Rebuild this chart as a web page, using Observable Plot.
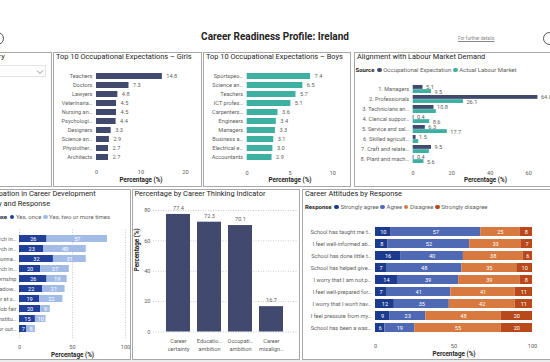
<!DOCTYPE html>
<html><head><meta charset="utf-8">
<script src="https://cdn.jsdelivr.net/npm/d3@7"></script>
<script src="https://cdn.jsdelivr.net/npm/@observablehq/plot@0.6"></script>
<style>
html,body{margin:0;padding:0;background:#fff;}
#root{position:relative;width:550px;height:362px;overflow:hidden;font-family:Roboto,sans-serif;color:#252423;background:#fff;}
.panel{position:absolute;box-sizing:border-box;border:1px solid #a8a8a8;background:#fff;}
.ptitle{position:absolute;font-size:7.4px;color:#252423;white-space:nowrap;line-height:9.5px;}
.legend{position:absolute;font-size:6px;color:#605e5c;white-space:nowrap;line-height:8px;}
.legend b{color:#252423;font-weight:bold;margin-right:1px;}
.dot{display:inline-block;width:4.6px;height:4.6px;border-radius:50%;margin:0 1.6px 0 1.6px;vertical-align:-0.2px;}
</style></head><body><div id="root"></div>
<script>
// ---------- DATA ----------
const girlsOcc = ["Teachers","Doctors","Lawyers","Veterinaria…","Nursing an…","Psychologi…","Designers","Science an…","Physiother…","Architects"];
const girlsPct = [14.8,7.3,4.8,4.5,4.5,4.4,3.3,2.9,2.7,2.7];
const girlsTicks = [0,10,20];

const boysOcc = ["Sportspeo…","Science an…","Teachers","ICT profes…","Carpenters…","Engineers","Managers","Business a…","Electrical e…","Accountants"];
const boysPct = [7.4,6.5,5.7,5.1,3.6,3.4,3.3,3.1,3.0,2.9];
const boysTicks = [0,5,10];

const alignCats = ["1. Managers","2. Professionals","3. Technicians an…","4. Clerical suppor…","5. Service and sal…","6. Skilled agricult…","7. Craft and relate…","8. Plant and mach…"];
const alignOE = [5.1,64.8,10.8,0.4,6.3,1.5,9.5,0.4];
const alignLM = [9.5,26.1,12.0,8.6,17.7,2.9,8.4,5.6];
const alignLMLabelHidden = ["3. Technicians an…","6. Skilled agricult…","7. Craft and relate…"];
const alignSources = ["Occupational Expectation","Actual Labour Market"];
const alignTicks = [0,20,40,60];

const partActs = ["Research internet careers","Research internet programmes","Questionnaire","Research internet financing","Internship","Job shadowing","Career advisor at school","Job fair","Visit institution","Career advisor outside school"];
const partLabels = ["Research in…","Research in…","Questionna…","Research in…","Internship","Job shadow…","Career advisor at s…","Job fair","Visit to an institu…","Career advisor out…"];
const partResp = ["Yes, once","Yes, two or more times"];
const partOnce = [26,23,32,20,26,22,19,20,15,7];
const partTwice = [57,40,31,27,19,21,22,9,10,8];
const partTicks = [0,50,100];

const thinkCats = ["Career\ncertainty","Educatio…\nambition","Occupati…\nambition","Career\nmisalign…"];
const thinkPct = [77.4,72.3,70.1,16.7];
const thinkTicks = [0,20,40,60,80];

const attStatements = ["School has taught me t…","I feel well-informed ab…","School has done little t…","School has helped give…","I worry that I am not p…","I feel well-prepared for…","I worry that I won't hav…","I feel pressure from my…","School has been a was…"];
const attResp = ["Strongly agree","Agree","Disagree","Strongly disagree"];
const attSA = [10,8,16,7,14,7,12,9,6];
const attA  = [57,52,40,48,39,41,35,23,19];
const attD  = [25,33,38,35,39,41,42,48,55];
const attSD = [8,7,6,10,8,11,11,20,20];
const attTicks = [0,50,100];

// ---------- STYLE ----------
const NAVY = "#414a6e", TEAL = "#3db0a2";
const partColors = ["#22409a","#a3bce6"];
const attColors = ["#1d3b8e","#5069b5","#d8793f","#b9481a"];
const TICK = "#605e5c", DARK = "#252423";
const root = document.getElementById("root");
const base = {fontFamily:"Roboto, sans-serif", fontSize:"5.6px", color:TICK, background:"transparent", overflow:"visible"};

function el(tag, cls, css, html){ const e=document.createElement(tag); if(cls) e.className=cls; Object.assign(e.style, css||{}); if(html!=null) e.innerHTML=html; root.appendChild(e); return e; }
function panel(l,t,w,h){ return el("div","panel",{left:l+"px",top:t+"px",width:w+"px",height:h+"px"}); }
function place(svg,x,y){ svg.style.position="absolute"; svg.style.left=x+"px"; svg.style.top=y+"px"; root.appendChild(svg); }
function bandM(top,height,first,last,n){ const s=(last-first)/(n-1); const r0=first-s/2; return {marginTop:r0-top, marginBottom:height-(r0+n*s-top), step:s, end:r0+n*s}; }
function axisTitle(dy){ return Plot.text(["Percentage (%)"],{text:d=>d, frameAnchor:"bottom", dy, fontSize:6.3, fontWeight:"bold", fill:DARK}); }

// ---------- HEADER ----------
el("div",null,{position:"absolute",left:"0px",top:"31px",width:"550px",textAlign:"center",fontSize:"10px",fontWeight:"bold",color:DARK},"Career Readiness Profile: Ireland");
el("div",null,{position:"absolute",left:"458px",top:"35.5px",fontSize:"4.6px",color:"#888",textDecoration:"underline"},"For further details");
el("div",null,{position:"absolute",left:"543px",top:"32px",width:"11px",height:"11px",border:"1px solid #555",borderRadius:"50%"});
el("div",null,{position:"absolute",left:"-9px",top:"32px",width:"11px",height:"11px",border:"1px solid #555",borderRadius:"50%"});

// ---------- PANELS ----------
panel(-10,51.5,62,135.5);
panel(52.5,51.5,149.5,135.5);
panel(203,51.5,148,135.5);
panel(354,51.5,205,135.5);
panel(-10,188.5,140.5,171);
panel(131.5,188.5,168,171);
panel(301.5,188.5,258,171);
el("div",null,{position:"absolute",left:"0px",top:"359.5px",width:"550px",height:"3px",background:"#ececec"});

// slicer
el("div","ptitle",{left:"-21px",top:"52px"},"Country");
const dd = el("div",null,{position:"absolute",left:"-10px",top:"65px",width:"56px",height:"11.5px",boxSizing:"border-box",border:"1px solid #e3e3e3"});
dd.innerHTML = '<svg width="8" height="6" style="position:absolute;left:45px;top:3px"><polyline points="1,1.5 4,4.5 7,1.5" fill="none" stroke="#777" stroke-width="0.8"/></svg>';

// ---------- GIRLS ----------
{
  const data = girlsOcc.map((k,i)=>({k, v:girlsPct[i]}));
  const top=64, H=123.5, L=52, W=150;
  const m = bandM(top,H,73,160,10);
  el("div","ptitle",{left:"56px",top:"52px"},"Top 10 Occupational Expectations – Girls");
  place(Plot.plot({width:W,height:H,marginLeft:96-L,marginRight:W-(185-L),marginTop:m.marginTop,marginBottom:m.marginBottom,style:base,
    x:{domain:[0,20],axis:null,label:null}, y:{domain:girlsOcc,paddingInner:0.28,paddingOuter:0.14,axis:null,label:null},
    marks:[
      Plot.barX(data,{x:"v",y:"k",fill:NAVY}),
      Plot.text(data,{x:"v",y:"k",text:d=>d.v.toFixed(1),dx:4,textAnchor:"start",fill:TICK}),
      Plot.axisY({tickSize:0,tickPadding:4,label:null}),
      Plot.axisX({ticks:girlsTicks,tickSize:0,tickPadding:5,label:null}),
      axisTitle(16.5)
    ]}), L, top);
}
// ---------- BOYS ----------
{
  const data = boysOcc.map((k,i)=>({k, v:boysPct[i]}));
  const top=64, H=123.5, L=203, W=150;
  const m = bandM(top,H,74,160.3,10);
  el("div","ptitle",{left:"206px",top:"52px"},"Top 10 Occupational Expectations – Boys");
  place(Plot.plot({width:W,height:H,marginLeft:246.7-L,marginRight:W-(332.3-L),marginTop:m.marginTop,marginBottom:m.marginBottom,style:base,
    x:{domain:[0,10],axis:null,label:null}, y:{domain:boysOcc,paddingInner:0.28,paddingOuter:0.14,axis:null,label:null},
    marks:[
      Plot.barX(data,{x:"v",y:"k",fill:TEAL}),
      Plot.text(data,{x:"v",y:"k",text:d=>d.v.toFixed(1),dx:4,textAnchor:"start",fill:TICK}),
      Plot.axisY({tickSize:0,tickPadding:4,label:null}),
      Plot.axisX({ticks:boysTicks,tickSize:0,tickPadding:5,label:null}),
      axisTitle(16.5)
    ]}), L, top);
}
// ---------- ALIGNMENT ----------
{
  const data = alignCats.map((k,i)=>({k, oe:alignOE[i], lm:alignLM[i]}));
  const top=76, H=111.5, L=354, W=210;
  const m = bandM(top,H,88,160,8);
  const pi = 0.25, bw = m.step*(1-pi);
  el("div","ptitle",{left:"357px",top:"52px"},"Alignment with Labour Market Demand");
  el("div","legend",{left:"355.5px",top:"66px"},`<b>Source</b><span class="dot" style="background:${NAVY}"></span>${alignSources[0]}<span class="dot" style="background:${TEAL}"></span>${alignSources[1]}`);
  place(Plot.plot({width:W,height:H,marginLeft:412.7-L,marginRight:W-(412.7+75*1.925-L),marginTop:m.marginTop,marginBottom:m.marginBottom,style:base,
    x:{domain:[0,75],axis:null,label:null}, y:{domain:alignCats,paddingInner:pi,paddingOuter:pi/2,axis:null,label:null},
    marks:[
      Plot.barX(data,{x:"oe",y:"k",fill:NAVY,insetBottom:bw/2+0.3}),
      Plot.barX(data,{x:"lm",y:"k",fill:TEAL,insetTop:bw/2+0.3}),
      Plot.text(data,{x:"oe",y:"k",text:d=>d.oe.toFixed(1),dx:3,dy:-bw/4-0.5,textAnchor:"start",fill:TICK}),
      Plot.text(data.filter(d=>!alignLMLabelHidden.includes(d.k)),{x:"lm",y:"k",text:d=>d.lm.toFixed(1),dx:3,dy:bw/4+1,textAnchor:"start",fill:TICK}),
      Plot.axisY({tickSize:0,tickPadding:4,label:null}),
      Plot.axisX({ticks:alignTicks,tickSize:0,tickPadding:5,label:null}),
      axisTitle(16.5)
    ]}), L, top);
}
// ---------- PARTICIPATION ----------
{
  const data = [];
  partActs.forEach((k,i)=>{ data.push({k,r:partResp[0],v:partOnce[i]}); data.push({k,r:partResp[1],v:partTwice[i]}); });
  const top=225, H=137, L=-40, W=169;
  const m = bandM(top,H,235,332.7,10);
  el("div","ptitle",{left:"-22.5px",top:"189px"},"Participation in Career Development<br>Activity and Response");
  el("div","legend",{left:"-19.5px",top:"213px"},`<b>Response</b><span class="dot" style="background:${partColors[0]}"></span>${partResp[0]}<span class="dot" style="background:${partColors[1]}"></span>${partResp[1]}`);
  place(Plot.plot({width:W,height:H,marginLeft:19-L,marginRight:W-(125-L),marginTop:m.marginTop,marginBottom:m.marginBottom,style:base,
    x:{domain:[0,100],axis:null,label:null}, y:{domain:partActs,paddingInner:0.26,paddingOuter:0.13,axis:null,label:null},
    color:{domain:partResp,range:partColors},
    marks:[
      Plot.gridX({ticks:partTicks,stroke:"#c9c9c9",strokeOpacity:1,strokeDasharray:"1,1.5"}),
      Plot.barX(data,Plot.stackX({x:"v",y:"k",fill:"r"})),
      Plot.text(data,Plot.stackX({x:"v",y:"k",text:"v",fill:"white"})),
      Plot.axisY({tickSize:0,tickPadding:3,label:null,tickFormat:d=>partLabels[partActs.indexOf(d)]}),
      Plot.axisX({ticks:partTicks,tickSize:0,tickPadding:6,label:null}),
      axisTitle(18.6)
    ]}), L, top);
}
// ---------- THINKING ----------
{
  const data = thinkCats.map((k,i)=>({k, v:thinkPct[i]}));
  const top=200, H=160, L=132, W=167;
  el("div","ptitle",{left:"134.5px",top:"189px"},"Percentage by Career Thinking Indicator");
  place(Plot.plot({width:W,height:H,marginLeft:153-L,marginRight:W-(297-L),marginTop:10,marginBottom:H-131.5,style:base,
    y:{domain:[0,80],axis:null,label:null}, x:{domain:thinkCats,paddingInner:0.22,paddingOuter:0.39,axis:null,label:null},
    marks:[
      Plot.gridY({ticks:thinkTicks,stroke:"#c9c9c9",strokeOpacity:1,strokeDasharray:"1,1.5"}),
      Plot.barY(data,{x:"k",y:"v",fill:NAVY}),
      Plot.text(data,{x:"k",y:"v",text:d=>d.v.toFixed(1),dy:-4.5,lineAnchor:"bottom",fill:TICK}),
      Plot.axisY({ticks:thinkTicks,tickSize:0,tickPadding:3,label:null}),
      Plot.axisX({tickSize:0,tickPadding:5,label:null,lineHeight:1.45}),
      Plot.text(["Percentage (%)"],{text:d=>d,frameAnchor:"left",rotate:-90,dx:-17,fontSize:6.3,fontWeight:"bold",fill:DARK})
    ]}), L, top);
}
// ---------- ATTITUDES ----------
{
  const cols = [attSA, attA, attD, attSD];
  const data = [];
  attStatements.forEach((k,i)=>attResp.forEach((r,j)=>data.push({k,r,v:cols[j][i]})));
  const top=218, H=142.5, L=302, W=248;
  const m = bandM(top,H,227.7,331,9);
  el("div","ptitle",{left:"305px",top:"189px"},"Career Attitudes by Response");
  el("div","legend",{left:"305px",top:"203px"},`<b>Response</b>` + attResp.map((r,j)=>`<span class="dot" style="background:${attColors[j]}"></span>${r}`).join(""));
  place(Plot.plot({width:W,height:H,marginLeft:375-L,marginRight:W-(532-L),marginTop:m.marginTop,marginBottom:m.marginBottom,style:base,
    x:{domain:[0,100],axis:null,label:null}, y:{domain:attStatements,paddingInner:0.25,paddingOuter:0.125,axis:null,label:null},
    color:{domain:attResp,range:attColors},
    marks:[
      Plot.barX(data,Plot.stackX({x:"v",y:"k",fill:"r"})),
      Plot.text(data,Plot.stackX({x:"v",y:"k",text:"v",fill:"white"})),
      Plot.axisY({tickSize:0,tickPadding:4,label:null}),
      Plot.axisX({ticks:attTicks,tickSize:0,tickPadding:6,label:null}),
      axisTitle(17.6)
    ]}), L, top);
}
</script></body></html>
